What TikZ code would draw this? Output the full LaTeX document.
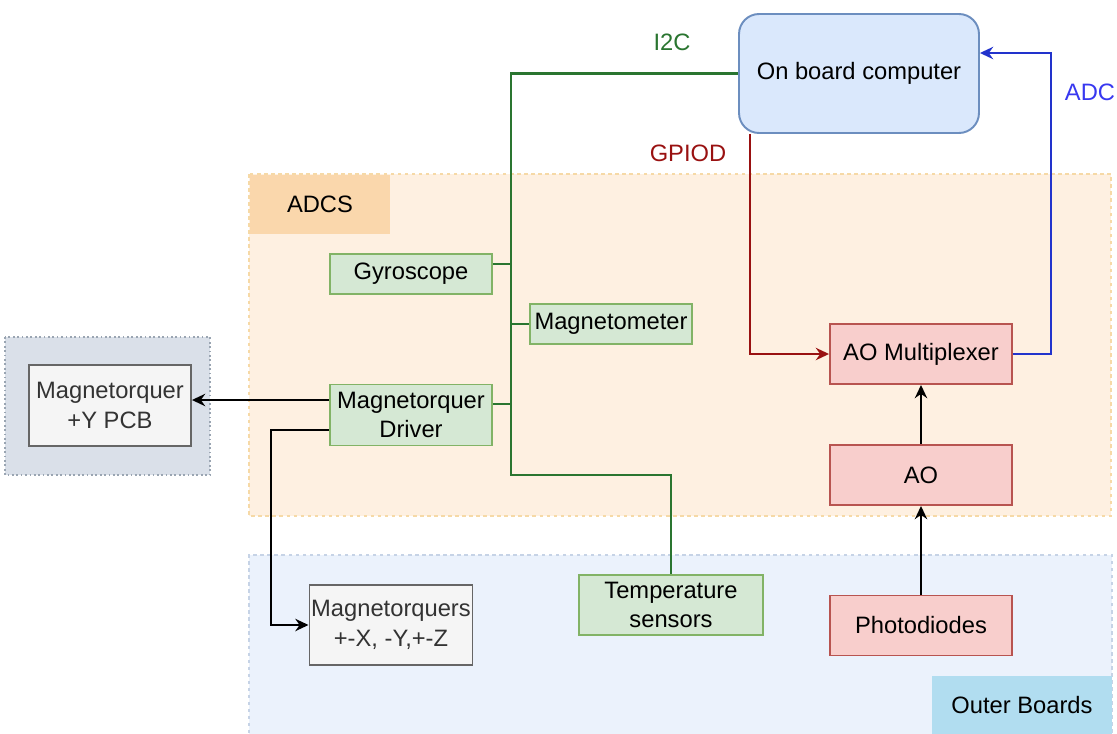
\documentclass[tikz,border=0pt]{standalone}
\usepackage{fontspec}
\setmainfont{Liberation Sans}
\usetikzlibrary{arrows.meta,calc}
\definecolor{adcsfill}{HTML}{FEF0E1}
\definecolor{adcsline}{HTML}{F6D9A6}
\definecolor{adcstag}{HTML}{FAD7AC}
\definecolor{outerfill}{HTML}{EBF2FC}
\definecolor{outerline}{HTML}{C6D3E6}
\definecolor{outertag}{HTML}{B1DDF0}
\definecolor{sidefill}{HTML}{DAE0E9}
\definecolor{sideline}{HTML}{9AA5B2}
\definecolor{grayfill}{HTML}{F5F5F5}
\definecolor{grayline}{HTML}{666666}
\definecolor{graytext}{HTML}{333333}
\definecolor{greenfill}{HTML}{D5E8D4}
\definecolor{greenline}{HTML}{82B366}
\definecolor{redfill}{HTML}{F8CECC}
\definecolor{redline}{HTML}{B85450}
\definecolor{bluefill}{HTML}{DAE8FC}
\definecolor{blueline}{HTML}{6C8EBF}
\definecolor{buscol}{HTML}{2A7530}
\definecolor{gpiocol}{HTML}{991111}
\definecolor{adccol}{HTML}{2233CC}
\definecolor{adctext}{HTML}{3838F0}

\begin{document}
\begin{tikzpicture}[x=0.02cm,y=-0.02cm,
  font=\fontsize{13.5}{17}\selectfont,
  box/.style={draw, line width=1.1pt, align=center, inner sep=1pt},
  greenbox/.style={box, fill=greenfill, draw=greenline},
  redbox/.style={box, fill=redfill, draw=redline, minimum width=3.64cm, minimum height=1.2cm},
  graybox/.style={box, fill=grayfill, draw=grayline, text=graytext, minimum width=3.24cm},
  link/.style={line width=1.3pt},
  arr/.style={link, -{Stealth[length=7.5pt,width=7pt]}},
  bus/.style={link, buscol}]
\useasboundingbox (0,0) rectangle (1117,734);

\fill[adcsfill] (249,174) rectangle (1111,516);
\draw[adcsline, line width=0.6pt, dash pattern=on 2pt off 2pt] (249,174) rectangle (1111,516);
\node[fill=adcstag, minimum width=2.8cm, minimum height=1.18cm] (adcstag) at (320,204.5) {ADCS};

\fill[outerfill] (249,555) rectangle (1112,740);
\draw[outerline, line width=0.6pt, dash pattern=on 2pt off 2pt] (1112,740) -- (1112,555) -- (249,555) -- (249,740);
\node[fill=outertag, minimum width=3.6cm, minimum height=1.16cm] (outertag) at (1022,705) {Outer Boards};

\fill[sidefill] (5,337) rectangle (210,475);
\draw[sideline, line width=0.6pt, dash pattern=on 1pt off 1.5pt] (5,337) rectangle (210,475);

\node[box, fill=bluefill, draw=blueline, rounded corners=0.4cm, minimum width=4.8cm, minimum height=2.38cm] (obc) at (859,73.5) {On board computer};

\node[greenbox, minimum width=3.24cm, minimum height=0.8cm] (gyro) at (411,274) {Gyroscope};
\node[greenbox, minimum width=3.24cm, minimum height=0.8cm] (mag) at (611,324) {Magnetometer};
\node[greenbox, minimum width=3.24cm, minimum height=1.22cm] (drv) at (411,415) {Magnetorquer\\Driver};
\node[greenbox, minimum width=3.68cm, minimum height=1.2cm] (temp) at (671,605) {Temperature\\sensors};

\node[graybox, minimum height=1.62cm] (pcb) at (110,405.5) {Magnetorquer\\+Y PCB};
\node[graybox, minimum height=1.6cm] (mtq) at (391,625) {Magnetorquers\\+-X, -Y,+-Z};

\node[redbox] (mux) at (921,354) {AO Multiplexer};
\node[redbox] (ao) at (921,475) {AO};
\node[redbox] (pd) at (921,625.5) {Photodiodes};

\coordinate (bustop) at (511,73.5);
\coordinate (busbot) at (511,475);
\coordinate (gyroout) at ($(gyro.east)+(0,-10)$);
\coordinate (drvout) at ($(drv.east)+(0,-11)$);
\draw[bus] (obc.west) -- (bustop) -- (busbot) -| (temp.north);
\draw[bus] (gyroout) -- (gyroout -| bustop);
\draw[bus] (mag.west) -- (mag.west -| bustop);
\draw[bus] (drvout) -- (drvout -| bustop);
\node[text=buscol] (i2c) at (672,42) {I2C};

\coordinate (gpioout) at ($(obc.south west)+(12,0)$);
\draw[arr, gpiocol] (gpioout) |- (mux.west);
\node[text=gpiocol] (gpiod) at (688,153) {GPIOD};

\coordinate (adcx) at (1051,53);
\draw[arr, adccol] (mux.east) -| (adcx) -- (obc.east |- adcx);
\node[text=adctext] (adc) at (1090,92) {ADC};

\coordinate (pcbout) at ($(drv.west)+(0,-15)$);
\coordinate (mtqout) at ($(drv.west)+(0,15)$);
\coordinate (mtqx) at (271,500);
\draw[arr] (pcbout) -- (pcbout -| pcb.east);
\draw[arr] (mtqout) -| (mtqx) |- (mtq.west);

\draw[arr] (pd.north) -- (ao.south);
\draw[arr] (ao.north) -- (mux.south);
\end{tikzpicture}
\end{document}
